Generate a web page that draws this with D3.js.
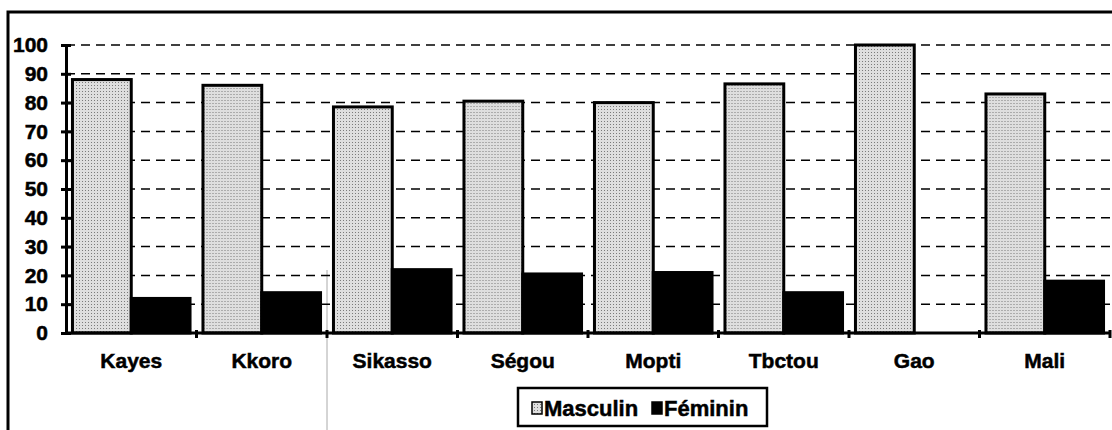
<!DOCTYPE html>
<html>
<head>
<meta charset="utf-8">
<script src="https://cdn.jsdelivr.net/npm/d3@7"></script>
<style>
  body { margin: 0; background: #fff; }
  text { font-family: "Liberation Sans", Arial, sans-serif; font-weight: bold; fill: #000; stroke: #000; stroke-width: 0.5px; }
</style>
</head>
<body>
<div class="myChart"></div>
<script>
var regions = ["Kayes", "Kkoro", "Sikasso", "Ségou", "Mopti", "Tbctou", "Gao", "Mali"];
var masculin = [88, 86, 78.5, 80.5, 80, 86.5, 100, 83];
var feminin = [12, 14, 22, 20.5, 21, 14, 0, 18];
var seriesNames = ["Masculin", "Féminin"];
var yTicks = [0, 10, 20, 30, 40, 50, 60, 70, 80, 90, 100];

var svgWidth = 1112;
var svgHeight = 430;
var margin = { top: 45, right: 2, bottom: 97, left: 66 };
var chartWidth = svgWidth - margin.left - margin.right;
var chartHeight = svgHeight - margin.top - margin.bottom;

var svg = d3.select(".myChart")
  .append("svg")
  .attr("width", svgWidth)
  .attr("height", svgHeight);

// stipple fill for the male bars
var defs = svg.append("defs");
var pat = defs.append("pattern")
  .attr("id", "dots")
  .attr("width", 3)
  .attr("height", 3)
  .attr("patternUnits", "userSpaceOnUse");
pat.append("rect").attr("width", 3).attr("height", 3).attr("fill", "#dedede");
pat.append("rect").attr("x", 1).attr("y", 1).attr("width", 1).attr("height", 1).attr("fill", "#7a7a7a");

// outer frame
svg.append("path")
  .attr("d", "M8,430 L8,12 L1112,12")
  .attr("fill", "none")
  .attr("stroke", "#000")
  .attr("stroke-width", 3);

// faint scan line
svg.append("line")
  .attr("x1", 327).attr("x2", 327)
  .attr("y1", 270).attr("y2", 430)
  .attr("stroke", "#aaa").attr("stroke-width", 1);

var chart = svg.append("g")
  .attr("transform", "translate(" + margin.left + "," + margin.top + ")");

var x0 = d3.scaleBand()
  .domain(regions)
  .range([0, chartWidth]);

var x1 = d3.scaleBand()
  .domain(seriesNames)
  .range([0, x0.bandwidth()])
  .paddingOuter(0.11);

var y = d3.scaleLinear()
  .domain([0, 100])
  .range([chartHeight, 0]);

// dashed grid
chart.selectAll(".grid")
  .data(yTicks.filter(function(d) { return d > 0; }))
  .enter().append("line")
  .attr("x1", 0)
  .attr("x2", chartWidth)
  .attr("y1", function(d) { return y(d); })
  .attr("y2", function(d) { return y(d); })
  .attr("stroke", "#000")
  .attr("stroke-width", 1.5)
  .attr("stroke-dasharray", "9,6");

var data = regions.map(function(r, i) {
  return { region: r, values: [masculin[i], feminin[i]] };
});

var groups = chart.selectAll(".group")
  .data(data)
  .enter().append("g")
  .attr("transform", function(d) { return "translate(" + x0(d.region) + ",0)"; });

groups.selectAll("rect")
  .data(function(d) {
    return d.values.map(function(v, i) { return { name: seriesNames[i], value: v }; });
  })
  .enter().append("rect")
  .filter(function(d) { return d.value > 0; })
  .attr("x", function(d) { return x1(d.name); })
  .attr("width", x1.bandwidth())
  .attr("y", function(d) { return y(d.value); })
  .attr("height", function(d) { return chartHeight - y(d.value); })
  .attr("fill", function(d) { return d.name === "Masculin" ? "url(#dots)" : "#000"; })
  .attr("stroke", "#000")
  .attr("stroke-width", 3);

// y axis
var leftAxis = d3.axisLeft(y).tickValues(yTicks).tickSize(5).tickPadding(13);
var yAxis = chart.append("g").call(leftAxis);
yAxis.select(".domain").attr("stroke-width", 3);
yAxis.selectAll(".tick line").attr("x2", 5).attr("x1", -5).attr("stroke-width", 3);
yAxis.selectAll(".tick text")
  .style("font-size", "21px")
  .style("font-family", "'Liberation Sans', Arial, sans-serif")
  .style("font-weight", "bold");

// x axis
var xAxisG = chart.append("g").attr("transform", "translate(0," + chartHeight + ")");
xAxisG.append("line")
  .attr("x1", 0).attr("x2", chartWidth)
  .attr("stroke", "#000").attr("stroke-width", 3);
xAxisG.selectAll(".xtick")
  .data(regions)
  .enter().append("line")
  .attr("x1", function(d) { return x0(d) + x0.step(); })
  .attr("x2", function(d) { return x0(d) + x0.step(); })
  .attr("y1", -3).attr("y2", 5)
  .attr("stroke", "#000").attr("stroke-width", 3);
xAxisG.selectAll(".xlabel")
  .data(regions)
  .enter().append("text")
  .attr("x", function(d) { return x0(d) + x0.bandwidth() / 2; })
  .attr("y", 35)
  .attr("text-anchor", "middle")
  .style("font-size", "21px")
  .text(function(d) { return d; });

// legend
var legend = svg.append("g").attr("transform", "translate(518,388)");
legend.append("rect")
  .attr("width", 249).attr("height", 38)
  .attr("fill", "#fff").attr("stroke", "#000").attr("stroke-width", 2.5);
var items = [
  { name: "Masculin", x: 14, fill: "url(#dots)" },
  { name: "Féminin", x: 134, fill: "#000" }
];
items.forEach(function(it) {
  legend.append("rect")
    .attr("x", it.x).attr("y", 14)
    .attr("width", 10).attr("height", 12)
    .attr("fill", it.fill).attr("stroke", "#000").attr("stroke-width", 1.5);
  legend.append("text")
    .attr("x", it.x + 12).attr("y", 28)
    .style("font-size", "22px")
    .text(it.name);
});
</script>
</body>
</html>
